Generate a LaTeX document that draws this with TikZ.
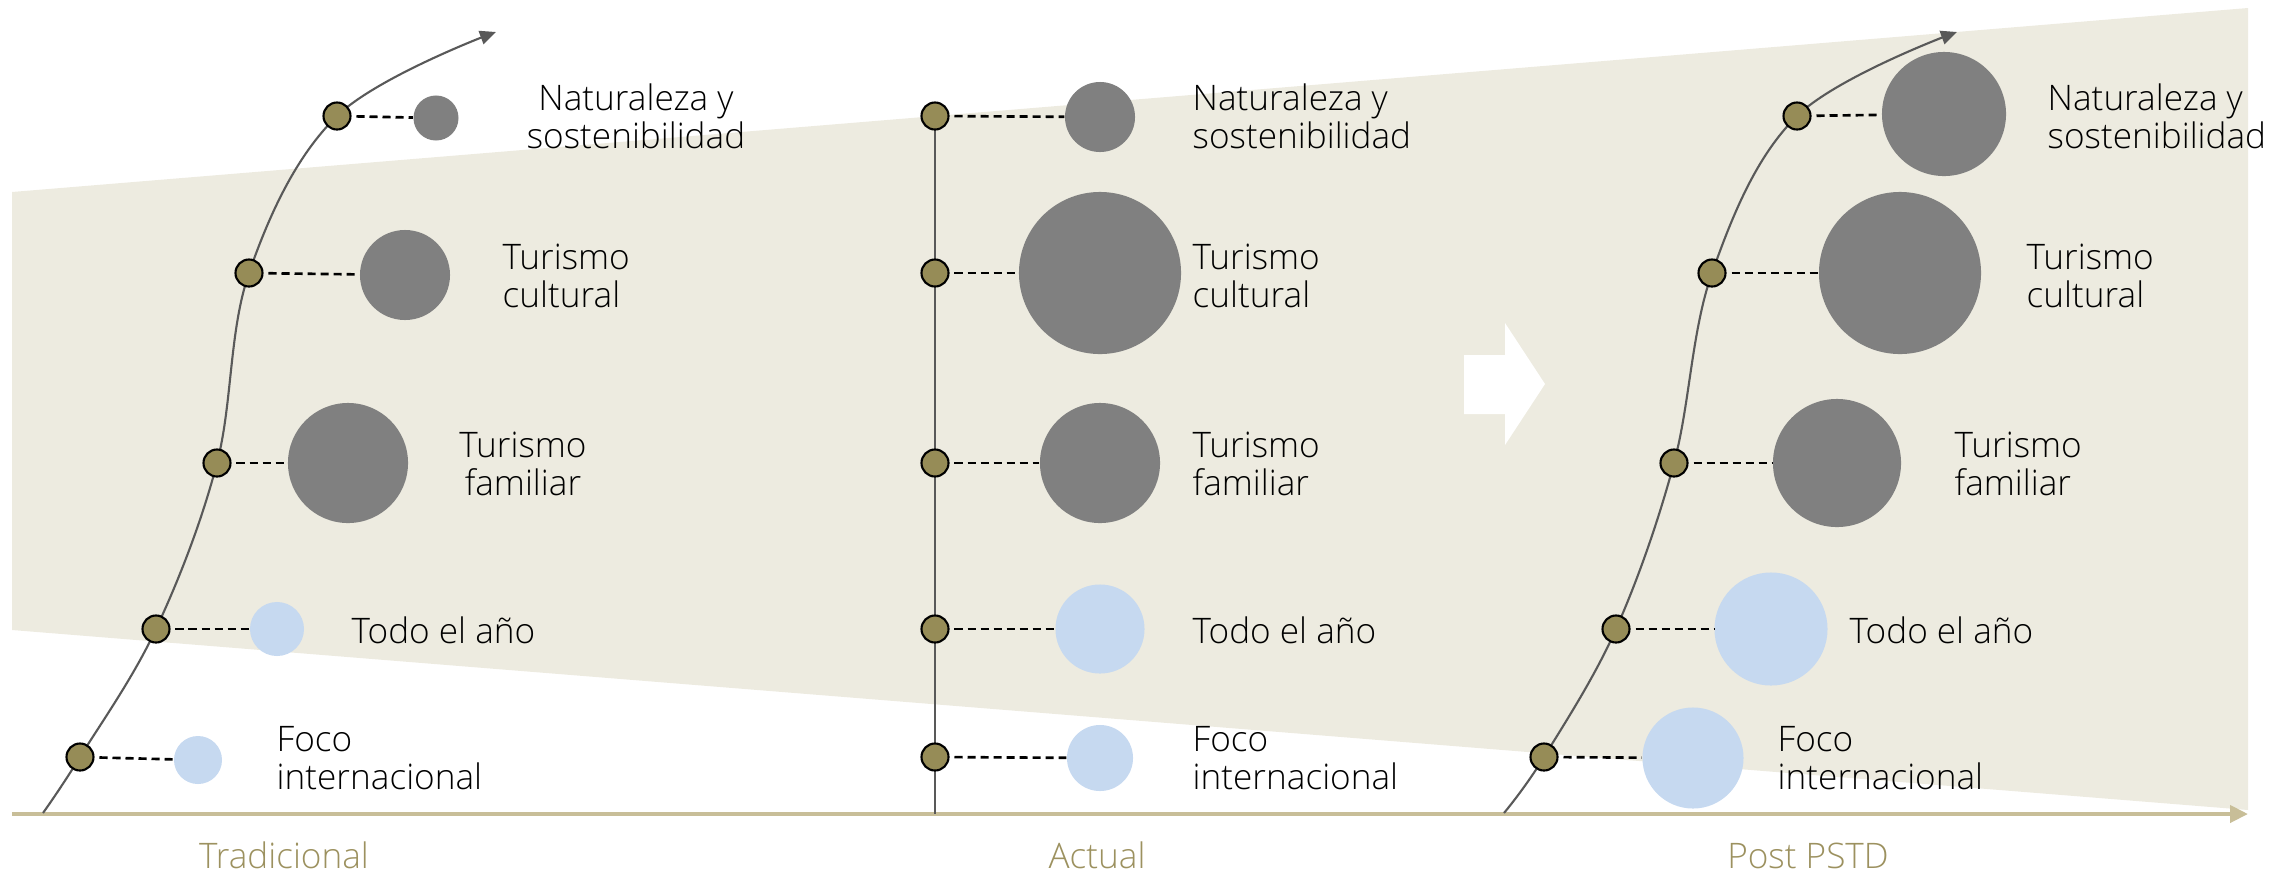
\documentclass[tikz,border=0pt]{standalone}
\usepackage{fontspec}
\IfFontExistsTF{Open Sans Light}{\setmainfont{Open Sans Light}}{\setmainfont{Open Sans}}
\usetikzlibrary{arrows.meta}

\definecolor{beige}{RGB}{237,235,224}
\definecolor{oliva}{RGB}{150,140,87}
\definecolor{grisc}{RGB}{128,128,128}
\definecolor{azulc}{RGB}{198,217,240}
\definecolor{ejec}{RGB}{200,190,152}
\definecolor{textofase}{RGB}{156,145,95}
\definecolor{linea}{RGB}{89,89,89}

\begin{document}
\begin{tikzpicture}[x=0.01cm, y=-0.01cm,
    punto/.style={circle, draw=black, line width=0.6pt, fill=oliva,
      minimum size=0.27cm, inner sep=0pt},
    bgris/.style={circle, fill=grisc, inner sep=0pt},
    bazul/.style={circle, fill=azulc, inner sep=0pt},
    guion/.style={black, line width=0.75pt, dash pattern=on 2.3pt off 1.4pt,
      dash phase=2.3pt},
    curva/.style={linea, line width=0.6pt,
      -{Triangle[length=0.16cm, width=0.14cm]}},
    etiqueta/.style={anchor=base west, align=left, inner sep=0pt,
      font=\fontsize{10}{10.8}\selectfont},
    etiquetac/.style={etiqueta, anchor=base, align=center},
    fase/.style={anchor=base, inner sep=0pt, text=textofase,
      font=\fontsize{10}{10.8}\selectfont}]
    \useasboundingbox (0,0) rectangle (2269,872);

    % Fondo
    \fill[beige] (12,192) -- (2248,8) -- (2248,810) -- (12,630) -- cycle;



    % Eje
    \coordinate (e0) at (12,814);
    \coordinate (e1) at (2248,814);
    \draw[ejec, line width=1.15pt, -{Triangle[length=0.18cm, width=0.17cm]}]
      (e0) -- (e1);

    \fill[white] (1464,355) -- (1505,355) -- (1505,323) -- (1545,384)
      -- (1505,445) -- (1505,414) -- (1464,414) -- cycle;



    % Tradicional
    \coordinate (a0) at (43,813);
    \coordinate (a1) at (337,116);
    \coordinate (a2) at (249,273);
    \coordinate (a3) at (217,463);
    \coordinate (a4) at (156,629);
    \coordinate (a5) at (80,757);
    \coordinate (a6) at (496,32);
    \draw[curva] plot[smooth, tension=0.6] coordinates
      {(a0) (a5) (a4) (a3) (a2) (a1) (a6)};

    \node[bgris, minimum size=0.45cm] (ca1) at (436,118) {};
    \node[bgris, minimum size=0.90cm] (ca2) at (405,275) {};
    \node[bgris, minimum size=1.20cm] (ca3) at (348,463) {};
    \node[bazul, minimum size=0.54cm] (ca4) at (277,629) {};
    \node[bazul, minimum size=0.48cm] (ca5) at (198,760) {};

    \foreach \i in {1,...,5} {
      \node[punto] (pa\i) at (a\i) {};
      \draw[guion] (pa\i) -- (ca\i);
    }

    \node[etiquetac] (la1) at (636,148) {Naturaleza y\\sostenibilidad};
    \node[etiqueta] (la2) at (502,307) {Turismo\\cultural};
    \node[etiquetac] (la3) at (523,495) {Turismo\\familiar};
    \node[etiqueta] (la4) at (351,643) {Todo el año};
    \node[etiqueta] (la5) at (276,789) {Foco\\internacional};



    % Actual
    \coordinate (b0) at (935,814);
    \coordinate (b1) at (935,116);
    \coordinate (b2) at (935,273);
    \coordinate (b3) at (935,463);
    \coordinate (b4) at (935,629);
    \coordinate (b5) at (935,757);
    \draw[linea, line width=0.6pt] (b1) -- (b0);

    \node[bgris, minimum size=0.70cm] (cb1) at (1100,117) {};
    \node[bgris, minimum size=1.62cm] (cb2) at (1100,273) {};
    \node[bgris, minimum size=1.20cm] (cb3) at (1100,463) {};
    \node[bazul, minimum size=0.89cm] (cb4) at (1100,629) {};
    \node[bazul, minimum size=0.66cm] (cb5) at (1100,758) {};

    \foreach \i in {1,...,5} {
      \node[punto] (pb\i) at (b\i) {};
      \draw[guion] (pb\i) -- (cb\i);
    }

    \node[etiqueta] (lb1) at (1192,148) {Naturaleza y\\sostenibilidad};
    \node[etiqueta] (lb2) at (1192,307) {Turismo\\cultural};
    \node[etiqueta] (lb3) at (1192,495) {Turismo\\familiar};
    \node[etiqueta] (lb4) at (1192,643) {Todo el año};
    \node[etiqueta] (lb5) at (1192,789) {Foco\\internacional};



    % Post PSTD
    \coordinate (c0) at (1504,813);
    \coordinate (c1) at (1797,116);
    \coordinate (c2) at (1712,273);
    \coordinate (c3) at (1674,463);
    \coordinate (c4) at (1616,629);
    \coordinate (c5) at (1544,757);
    \coordinate (c6) at (1957,32);
    \draw[curva] plot[smooth, tension=0.6] coordinates
      {(c0) (c5) (c4) (c3) (c2) (c1) (c6)};

    \node[bgris, minimum size=1.24cm] (cc1) at (1944,114) {};
    \node[bgris, minimum size=1.62cm] (cc2) at (1900,273) {};
    \node[bgris, minimum size=1.28cm] (cc3) at (1837,463) {};
    \node[bazul, minimum size=1.13cm] (cc4) at (1771,629) {};
    \node[bazul, minimum size=1.01cm] (cc5) at (1693,758) {};

    \foreach \i in {1,...,5} {
      \node[punto] (pc\i) at (c\i) {};
      \draw[guion] (pc\i) -- (cc\i);
    }

    \node[etiqueta] (lc1) at (2047,148) {Naturaleza y\\sostenibilidad};
    \node[etiqueta] (lc2) at (2026,307) {Turismo\\cultural};
    \node[etiqueta] (lc3) at (1954,495) {Turismo\\familiar};
    \node[etiqueta] (lc4) at (1849,643) {Todo el año};
    \node[etiqueta] (lc5) at (1777,789) {Foco\\internacional};



    % Fases
    \node[fase] (fa) at (284,868) {Tradicional};
    \node[fase] (fb) at (1097,868) {Actual};
    \node[fase] (fc) at (1808,868) {Post PSTD};
  \end{tikzpicture}
\end{document}
